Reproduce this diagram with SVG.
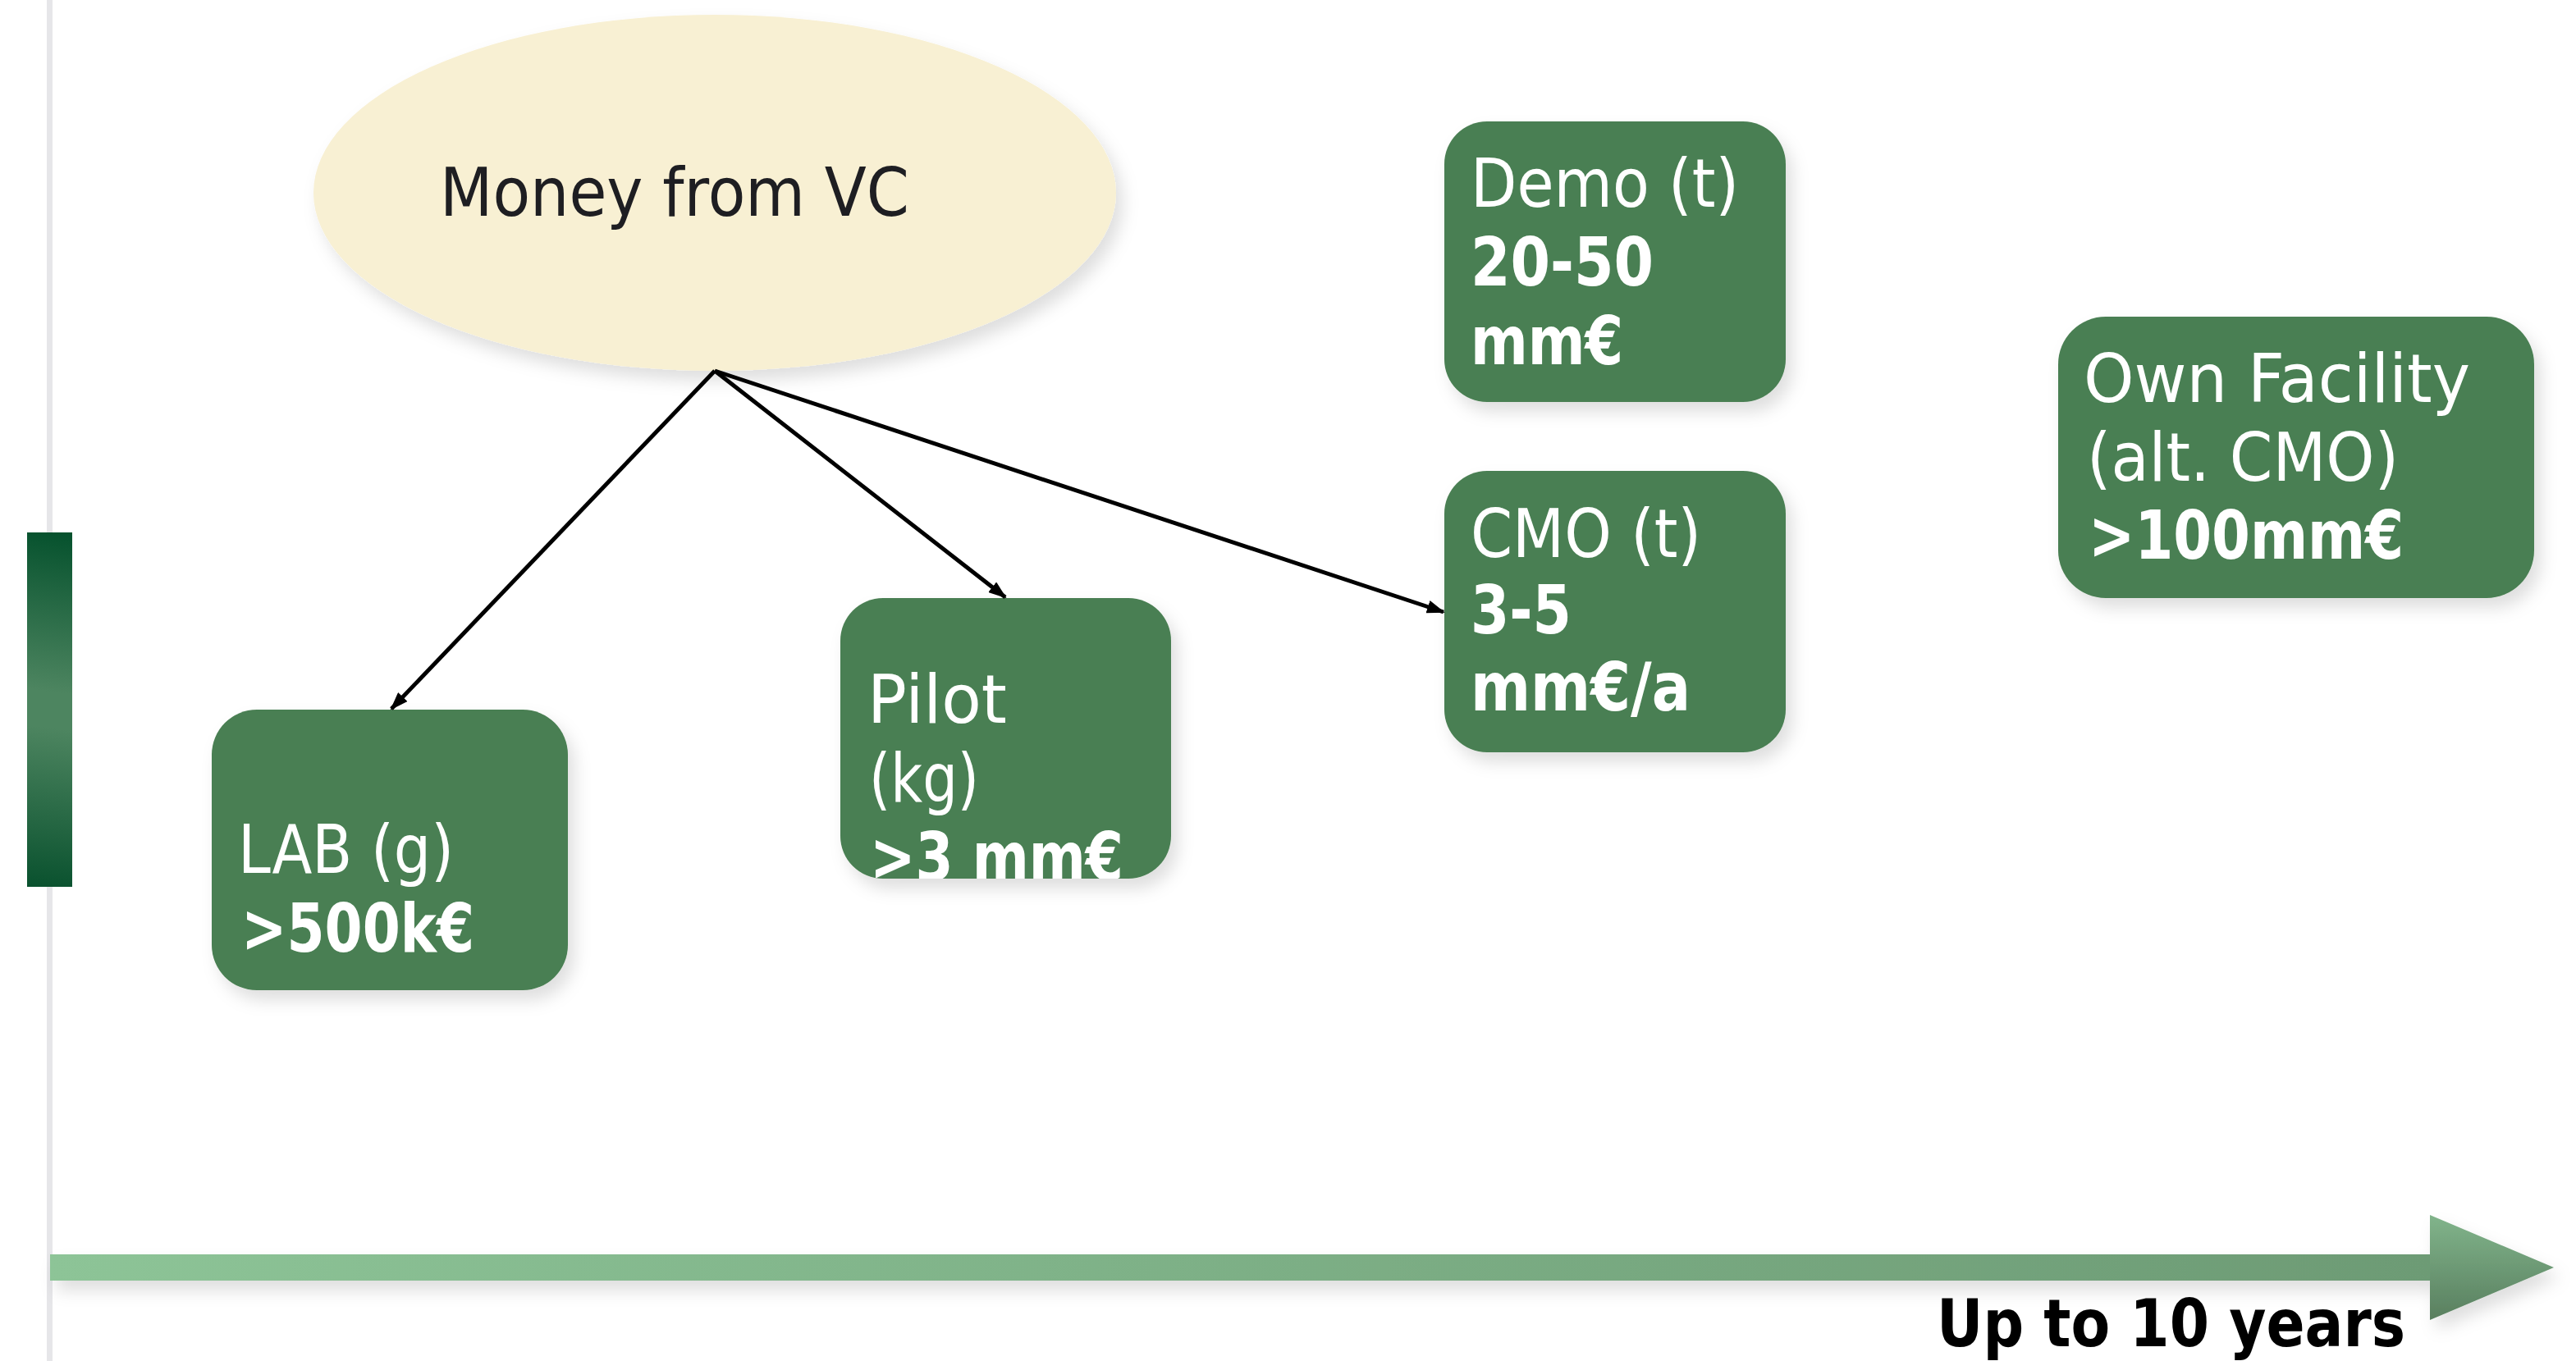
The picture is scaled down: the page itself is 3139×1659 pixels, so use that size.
<svg xmlns="http://www.w3.org/2000/svg" width="3139" height="1659" viewBox="0 0 3139 1659">
<style>
.box{fill:#4a7f52}
.t{font-family:"DejaVu Sans","Liberation Sans",sans-serif;fill:#ffffff;font-size:82px}
.b{font-weight:700}
.conn{stroke:#000;stroke-width:5;fill:none;marker-end:url(#ah)}
</style>
<defs>
<filter id="sh" x="-20%" y="-20%" width="140%" height="150%">
<feDropShadow dx="8" dy="12" stdDeviation="10" flood-color="#000" flood-opacity="0.13"/>
</filter>
<linearGradient id="bar" gradientUnits="userSpaceOnUse" x1="88" y1="649" x2="33" y2="1081">
<stop offset="0" stop-color="#05512d"/>
<stop offset="0.45" stop-color="#4d8560"/>
<stop offset="0.55" stop-color="#4d8560"/>
<stop offset="1" stop-color="#09512e"/>
</linearGradient>
<linearGradient id="shaft" gradientUnits="userSpaceOnUse" x1="61" y1="0" x2="2961" y2="0">
<stop offset="0" stop-color="#8dc497"/>
<stop offset="1" stop-color="#6d9b75"/>
</linearGradient>
<linearGradient id="head" x1="0" y1="0" x2="0" y2="1">
<stop offset="0" stop-color="#81b48b"/>
<stop offset="1" stop-color="#597f5f"/>
</linearGradient>
<marker id="ah" markerWidth="22" markerHeight="16" refX="20" refY="8" orient="auto" markerUnits="userSpaceOnUse">
<path d="M0,0 L22,8 L0,16 z" fill="#000"/>
</marker>
<clipPath id="pilotClip"><rect x="1024" y="729" width="403" height="342" rx="52"/></clipPath>
</defs>

<rect x="57" y="0" width="7" height="1659" fill="#e6e6e9"/>
<rect id="bar-left" x="33" y="649" width="55" height="432" fill="url(#bar)"/>

<g id="timeline" filter="url(#sh)">
<rect x="61" y="1529" width="2901" height="32" fill="url(#shaft)"/>
<polygon points="2961,1481 3112,1545 2961,1609" fill="url(#head)"/>
</g>
<text id="timeline-label" x="2360" y="1641" font-family="'DejaVu Sans','Liberation Sans',sans-serif" font-weight="700" font-size="80" fill="#000" textLength="571" lengthAdjust="spacingAndGlyphs">Up to 10 years</text>

<g id="vc">
<ellipse cx="871" cy="235" rx="489" ry="217" fill="#f8f0d3" filter="url(#sh)"/>
<text x="536" y="263" font-family="'DejaVu Sans','Liberation Sans',sans-serif" font-size="82" fill="#1e1e22" textLength="572" lengthAdjust="spacingAndGlyphs">Money from VC</text>
</g>

<g id="lab">
<rect class="box" x="258" y="865" width="434" height="342" rx="55" filter="url(#sh)"/>
<text class="t" x="290" y="1064" textLength="263" lengthAdjust="spacingAndGlyphs">LAB (g)</text>
<text class="t b" x="294" y="1160" textLength="284" lengthAdjust="spacingAndGlyphs">&gt;500k€</text>
</g>

<g id="pilot">
<rect class="box" x="1024" y="729" width="403" height="342" rx="52" filter="url(#sh)"/>
<text class="t" x="1057" y="881" textLength="170" lengthAdjust="spacingAndGlyphs">Pilot</text>
<text class="t" x="1059" y="977" textLength="134" lengthAdjust="spacingAndGlyphs">(kg)</text>
<text class="t b" x="1060" y="1073" textLength="309" lengthAdjust="spacingAndGlyphs" clip-path="url(#pilotClip)">&gt;3 mm€</text>
</g>

<g id="demo">
<rect class="box" x="1760" y="148" width="416" height="342" rx="52" filter="url(#sh)"/>
<text class="t" x="1792" y="252" textLength="327" lengthAdjust="spacingAndGlyphs">Demo (t)</text>
<text class="t b" x="1792" y="348" textLength="223" lengthAdjust="spacingAndGlyphs">20-50</text>
<text class="t b" x="1792" y="444" textLength="186" lengthAdjust="spacingAndGlyphs">mm€</text>
</g>

<g id="cmo">
<rect class="box" x="1760" y="574" width="416" height="343" rx="52" filter="url(#sh)"/>
<text class="t" x="1792" y="679" textLength="281" lengthAdjust="spacingAndGlyphs">CMO (t)</text>
<text class="t b" x="1792" y="772" textLength="123" lengthAdjust="spacingAndGlyphs">3-5</text>
<text class="t b" x="1792" y="866" textLength="268" lengthAdjust="spacingAndGlyphs">mm€/a</text>
</g>

<g id="own">
<rect class="box" x="2508" y="386" width="580" height="343" rx="58" filter="url(#sh)"/>
<text class="t" x="2539" y="490" textLength="471" lengthAdjust="spacingAndGlyphs">Own Facility</text>
<text class="t" x="2543" y="586" textLength="380" lengthAdjust="spacingAndGlyphs">(alt. CMO)</text>
<text class="t b" x="2545" y="681" textLength="384" lengthAdjust="spacingAndGlyphs">&gt;100mm€</text>
</g>

<g id="connectors">
<line class="conn" x1="871" y1="452" x2="477" y2="864"/>
<line class="conn" x1="871" y1="452" x2="1225" y2="728"/>
<line class="conn" x1="871" y1="452" x2="1759" y2="746"/>
</g>
</svg>
